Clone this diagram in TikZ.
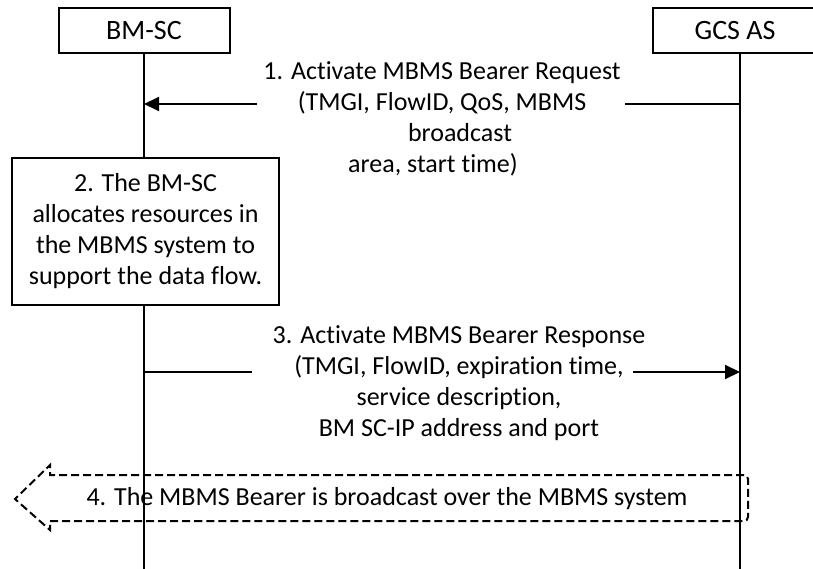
\documentclass[tikz,border=0pt]{standalone}
\usepackage{fontspec}
\setmainfont{Carlito}[Ligatures=NoCommon]
\usetikzlibrary{arrows.meta}

\begin{document}
\begin{tikzpicture}[x=1pt,y=-1pt,line width=2pt,
    every node/.style={font=\fontsize{26}{31}\selectfont},
    entity/.style={draw,fill=white,minimum height=45pt,inner sep=0pt,font=\fontsize{28}{31}\selectfont},
    note/.style={align=center,inner sep=0pt},
    msg/.style={-{Triangle[length=15pt,width=14pt]}},
    bcast/.style={dash pattern=on 8pt off 4pt}]
            \useasboundingbox (0,0) rectangle (813,569);
            % entities and lifelines
            \node[entity,minimum width=171pt] (bmsc) at (144,30.5) {BM-SC};
            \node[entity,minimum width=164pt] (gcs) at (735,30.5) {GCS AS};
            \coordinate (bmscend) at (144,569);
            \coordinate (gcsend) at (740,569);
              \draw (bmsc.south) -- (bmscend);
              \draw (gcs.south -| gcsend) -- (gcsend);
            % 1. request
            \coordinate (req1) at (740,104);
            \coordinate (req1a) at (625,104);
            \coordinate (req1b) at (257,104);
            \coordinate (req2) at (144,104);
            \node[note] (reqtxt) at (442,119) {1. Activate MBMS Bearer Request\\(TMGI, FlowID, QoS, MBMS\\\hspace*{36pt}broadcast\\area, start time)\hspace*{18pt}};
              \draw (req1) -- (req1a);
              \draw[msg] (req1b) -- (req2);
            % 2. allocation
            \node[draw,fill=white,align=center,minimum width=267pt,minimum height=147pt] (alloc) at (145.5,231.5) {2. The BM-SC\\allocates resources in\\the MBMS system to\\support the data flow.};
            % 3. response
            \coordinate (rsp1) at (144,372);
            \coordinate (rsp1a) at (252,372);
            \coordinate (rsp1b) at (633,372);
            \coordinate (rsp2) at (740,372);
            \node[note] (rsptxt) at (459,383) {3. Activate MBMS Bearer Response\\(TMGI, FlowID, expiration time,\\service description,\\BM SC-IP address and port};
              \draw (rsp1) -- (rsp1a);
              \draw[msg] (rsp1b) -- (rsp2);
            % 4. broadcast
            \draw[bcast] (400,475) [rounded corners=4pt] -- (748,475) -- (748,521) [sharp corners] -- (50,521) -- (50,530) -- (15,499) -- (50,465) -- (50,475) -- cycle;
            \node[note] (bctxt) at (387,499) {4. The MBMS Bearer is broadcast over the MBMS system};
            \end{tikzpicture}
\end{document}
